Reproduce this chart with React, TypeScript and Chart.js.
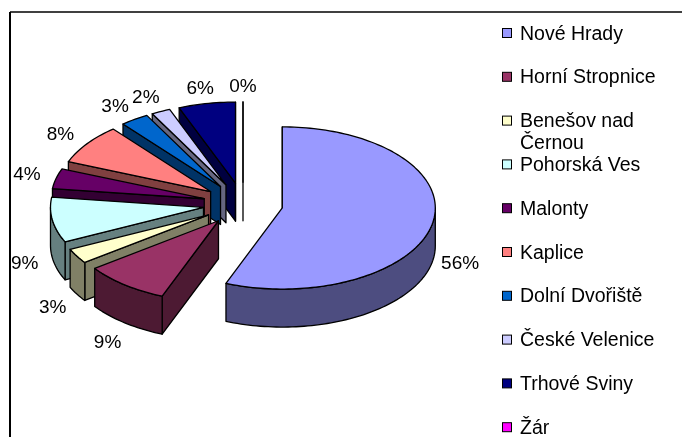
import React, { useEffect, useRef } from 'react';
import { Chart, registerables } from 'chart.js';

Chart.register(...registerables);

const categories = [
  'Nové Hrady',
  'Horní Stropnice',
  'Benešov nad Černou',
  'Pohorská Ves',
  'Malonty',
  'Kaplice',
  'Dolní Dvořiště',
  'České Velenice',
  'Trhové Sviny',
  'Žár',
];
const legendLines = [
  ['Nové Hrady'],
  ['Horní Stropnice'],
  ['Benešov nad', 'Černou'],
  ['Pohorská Ves'],
  ['Malonty'],
  ['Kaplice'],
  ['Dolní Dvořiště'],
  ['České Velenice'],
  ['Trhové Sviny'],
  ['Žár'],
];
const values = [56, 9, 3, 9, 4, 8, 3, 2, 6, 0];
const percentLabels = ['56%', '9%', '3%', '9%', '4%', '8%', '3%', '2%', '6%', '0%'];
const topColors = ['#9999FF', '#993366', '#FFFFCC', '#CCFFFF', '#660066', '#FF8080', '#0066CC', '#CCCCFF', '#000080', '#FF00FF'];
const sideColors = ['#4D4D80', '#4D1A33', '#808066', '#668080', '#330033', '#804040', '#003366', '#666680', '#000040', '#800080'];

const K = 0.53;
const DEPTH = 38;
const FONT = '"Liberation Sans", Arial, sans-serif';

function arcPts(cx: number, cy: number, r: number, a0: number, a1: number, dy = 0) {
  const n = Math.max(2, Math.ceil(Math.abs(a1 - a0) / (Math.PI / 120)));
  const pts: [number, number][] = [];
  for (let i = 0; i <= n; i++) {
    const a = a0 + ((a1 - a0) * i) / n;
    pts.push([cx + r * Math.cos(a), cy + K * r * Math.sin(a) + dy]);
  }
  return pts;
}

function geom(el: any) {
  const p = el.getProps(['x', 'y', 'startAngle', 'endAngle', 'outerRadius'], true);
  const off = (el.options.offset || 0) / 4;
  const h = (p.startAngle + p.endAngle) / 2;
  return {
    s: p.startAngle,
    e: p.endAngle,
    r: p.outerRadius,
    h,
    ax: p.x + off * Math.cos(h),
    ay: p.y + K * off * Math.sin(h),
  };
}

const pie3d = {
  id: 'pie3d',
  beforeDatasetsDraw(chart: any) {
    const ctx = chart.ctx as CanvasRenderingContext2D;
    const meta = chart.getDatasetMeta(0);
    const order = meta.data.map((_: any, i: number) => i);
    const gs = meta.data.map((el: any) => geom(el));
    order.sort((a: number, b: number) => Math.sin(gs[a].h) - Math.sin(gs[b].h));
    ctx.save();
    ctx.lineWidth = 1.3;
    ctx.strokeStyle = '#000';
    ctx.lineJoin = 'round';
    for (const i of order) {
      const { s, e, r, ax, ay } = gs[i];
      const top = topColors[i];
      const side = sideColors[i];
      const wall = (a: number) => {
        const px = ax + r * Math.cos(a);
        const py = ay + K * r * Math.sin(a);
        ctx.beginPath();
        ctx.moveTo(ax, ay);
        ctx.lineTo(px, py);
        ctx.lineTo(px, py + DEPTH);
        ctx.lineTo(ax, ay + DEPTH);
        ctx.closePath();
        ctx.fillStyle = side;
        ctx.fill();
        ctx.stroke();
      };
      if (-Math.cos(s) >= -1e-6) wall(s);
      if (Math.cos(e) >= -1e-6 && e !== s) wall(e);
      const a0 = Math.max(s, 0);
      const a1 = Math.min(e, Math.PI);
      if (a1 > a0) {
        const upper = arcPts(ax, ay, r, a0, a1);
        const lower = arcPts(ax, ay, r, a1, a0, DEPTH);
        ctx.beginPath();
        upper.forEach(([x, y], k) => (k === 0 ? ctx.moveTo(x, y) : ctx.lineTo(x, y)));
        lower.forEach(([x, y]) => ctx.lineTo(x, y));
        ctx.closePath();
        ctx.fillStyle = side;
        ctx.fill();
        ctx.stroke();
      }
      ctx.beginPath();
      ctx.moveTo(ax, ay);
      if (e > s) {
        arcPts(ax, ay, r, s, e).forEach(([x, y]) => ctx.lineTo(x, y));
        ctx.closePath();
        ctx.fillStyle = top;
        ctx.fill();
      } else {
        ctx.lineTo(ax + r * Math.cos(s), ay + K * r * Math.sin(s));
      }
      ctx.stroke();
    }
    ctx.restore();
    return false;
  },
  afterDraw(chart: any) {
    const ctx = chart.ctx as CanvasRenderingContext2D;
    const meta = chart.getDatasetMeta(0);
    ctx.save();
    ctx.fillStyle = '#404040';
    ctx.fillRect(10, 11, 672, 2);
    ctx.fillStyle = '#000';
    ctx.fillRect(9, 12, 2, 425);
    ctx.font = `19px ${FONT}`;
    ctx.textAlign = 'center';
    ctx.textBaseline = 'middle';
    ctx.fillStyle = '#000';
    meta.data.forEach((el: any, i: number) => {
      const { r, h, ax, ay } = geom(el);
      const px = ax + r * Math.cos(h);
      const py = ay + K * r * Math.sin(h);
      const sh = Math.sin(h);
      const ch = Math.cos(h);
      const cx = px + 28 * ch - (sh < 0 ? 8 * Math.abs(ch) * -sh : 0);
      const cy = sh < 0 ? py + 15 * sh : py + 24 * sh + DEPTH - 2 * ch;
      ctx.fillText(percentLabels[i], cx, cy);
    });
    ctx.font = `19.5px ${FONT}`;
    ctx.textAlign = 'left';
    ctx.textBaseline = 'alphabetic';
    legendLines.forEach((lines, i) => {
      const yc = 33 + i * 43.8;
      ctx.fillStyle = topColors[i];
      ctx.fillRect(502, yc - 4.5, 9, 9);
      ctx.strokeStyle = '#000';
      ctx.lineWidth = 1;
      ctx.strokeRect(502.5, yc - 4.5, 9, 9);
      ctx.fillStyle = '#000';
      lines.forEach((t, k) => ctx.fillText(t, 520, yc + 6.5 + k * 22));
    });
    ctx.restore();
  },
};

export default function App() {
  const ref = useRef<HTMLCanvasElement | null>(null);
  useEffect(() => {
    if (!ref.current) return;
    const chart = new Chart(ref.current, {
      type: 'pie',
      data: {
        labels: categories,
        datasets: [
          {
            data: values,
            backgroundColor: topColors,
            borderColor: '#000',
            borderWidth: 1,
            offset: 160,
            radius: 153,
          } as any,
        ],
      },
      options: {
        responsive: false,
        maintainAspectRatio: false,
        animation: false,
        layout: { padding: { left: 0, top: 0, right: 196, bottom: 29 } },
        plugins: {
          legend: { display: false },
          tooltip: { enabled: false },
        },
      },
      plugins: [pie3d as any],
    });
    return () => chart.destroy();
  }, []);
  return (
    <div style={{ position: 'absolute', left: 0, top: 0, width: 682, height: 437, background: '#fff' }}>
      <canvas ref={ref} width={682} height={437} style={{ display: 'block' }} />
    </div>
  );
}
